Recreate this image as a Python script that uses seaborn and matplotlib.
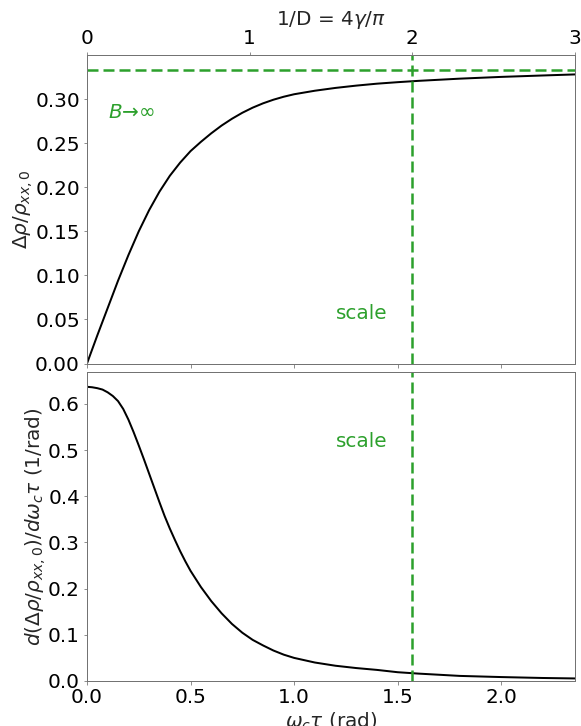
import numpy as np
import pandas as pd
import matplotlib
matplotlib.use("Agg")
import matplotlib.pyplot as plt
import seaborn as sns

# normalized magnetoresistance vs. cyclotron phase omega_c * tau (rad)
wt_top = [0.000, 0.050, 0.100, 0.150, 0.200, 0.250, 0.300, 0.350, 0.400,
          0.450, 0.500, 0.550, 0.600, 0.650, 0.700, 0.750, 0.800, 0.850,
          0.900, 0.950, 1.000, 1.100, 1.200, 1.300, 1.400, 1.500, 1.600,
          1.800, 2.000, 2.200, 2.356]
delta_rho = [0.000, 0.032, 0.063, 0.094, 0.123, 0.150, 0.174, 0.195, 0.213,
             0.228, 0.241, 0.2515, 0.2612, 0.2700, 0.2777, 0.2845, 0.2903,
             0.2952, 0.2993, 0.3027, 0.3055, 0.3095, 0.3127, 0.3153, 0.3175,
             0.3192, 0.3207, 0.3232, 0.3252, 0.3268, 0.328]

# slope of the magnetoresistance with respect to omega_c * tau
wt_bot = [0.000, 0.025, 0.050, 0.075, 0.100, 0.125, 0.150, 0.175, 0.200,
          0.225, 0.250, 0.275, 0.300, 0.325, 0.350, 0.375, 0.400, 0.425,
          0.450, 0.475, 0.500, 0.550, 0.600, 0.650, 0.700, 0.750, 0.800,
          0.850, 0.900, 0.950, 1.000, 1.100, 1.200, 1.300, 1.400, 1.500,
          1.600, 1.800, 2.000, 2.200, 2.356]
d_delta_rho = [0.637, 0.636, 0.634, 0.631, 0.625, 0.617, 0.606, 0.589, 0.566,
               0.539, 0.510, 0.480, 0.449, 0.418, 0.387, 0.357, 0.330, 0.305,
               0.281, 0.259, 0.2385, 0.2035, 0.173, 0.1465, 0.1235, 0.1045,
               0.089, 0.077, 0.066, 0.057, 0.050, 0.040, 0.033, 0.028, 0.024,
               0.019, 0.016, 0.011, 0.0085, 0.0065, 0.0055]

saturation = 1 / 3
scale_phase = np.pi / 2
x_max = 3 * np.pi / 4

top_df = pd.DataFrame({"wt": wt_top, "drho": delta_rho})
bot_df = pd.DataFrame({"wt": wt_bot, "slope": d_delta_rho})

sns.set_style("ticks")
plt.rcParams.update({
    "font.family": ["DejaVu Sans"],
    "font.size": 20,
    "axes.edgecolor": "0.45",
    "axes.linewidth": 1.0,
    "xtick.color": "0.45",
    "ytick.color": "0.45",
    "xtick.labelcolor": "black",
    "ytick.labelcolor": "black",
    "xtick.labelsize": 20,
    "ytick.labelsize": 20,
    "xtick.major.size": 3.5,
    "ytick.major.size": 3.5,
    "xtick.major.pad": 3.5,
    "ytick.major.pad": 3.5,
    "xtick.major.width": 0.8,
    "ytick.major.width": 0.8,
    "axes.labelsize": 20,
    "axes.labelpad": 4.0,
})

green = "#2ca02c"
DPI = 72
dash = (0, (4.4, 2.0))

fig, (ax1, ax2) = plt.subplots(2, 1, figsize=(581 / DPI, 726 / DPI), dpi=DPI,
                               sharex=True)
fig.subplots_adjust(left=0.1497, right=0.9897, top=0.9242, bottom=0.0620,
                    hspace=0.029)

# upper panel: magnetoresistance
sns.lineplot(data=top_df, x="wt", y="drho", ax=ax1, color="black", lw=2)
ax1.axhline(saturation, color=green, ls=dash, lw=2.5)
ax1.axvline(scale_phase, color=green, ls=dash, lw=2.5)
ax1.set_ylim(0, 0.35)
ax1.set_yticks([0.00, 0.05, 0.10, 0.15, 0.20, 0.25, 0.30])
ax1.set_xlim(0, x_max)
ax1.set_ylabel(r"$\Delta\rho/\rho_{xx,0}$", labelpad=0)
ax1.set_xlabel("")
ax1.text(0.10, 0.285, "$B$→∞", color=green, fontsize=20, va="center", ha="left")
ax1.text(1.449, 0.0568, "scale", color=green, fontsize=20, va="center", ha="right")
ax1.tick_params(axis="x", labelbottom=False)

top = ax1.secondary_xaxis("top", functions=(lambda w: 4 * w / np.pi,
                                            lambda d: d * np.pi / 4))
top.set_xticks([0, 1, 2, 3])
top.set_xlabel(r"1/D = 4$\gamma/\pi$", fontsize=20)

# lower panel: slope
sns.lineplot(data=bot_df, x="wt", y="slope", ax=ax2, color="black", lw=2)
ax2.axvline(scale_phase, color=green, ls=dash, lw=2.5)
ax2.set_ylim(0, 0.668)
ax2.set_xlim(0, x_max)
ax2.set_xticks([0.0, 0.5, 1.0, 1.5, 2.0])
ax2.set_yticks([0.0, 0.1, 0.2, 0.3, 0.4, 0.5, 0.6])
ax2.set_ylabel(r"$d(\Delta\rho/\rho_{xx,0})/d\omega_c\tau$ (1/rad)", labelpad=0)
ax2.set_xlabel(r"$\omega_c\tau$ (rad)")
ax2.text(1.449, 0.5185, "scale", color=green, fontsize=20, va="center", ha="right")

for ax in (ax1, ax2):
    for s in ax.spines.values():
        s.set_visible(True)

fig.savefig("out.png", dpi=DPI)
